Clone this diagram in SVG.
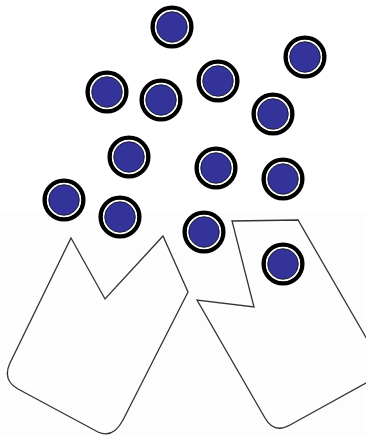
<svg xmlns="http://www.w3.org/2000/svg" width="366" height="436" viewBox="0 0 366 436">
<defs>
<style>
.shape{fill:#fefefe;stroke:#333;stroke-width:1.3;stroke-linejoin:miter}
.ring{fill:none;stroke:#000;stroke-width:4.5}
.gap{fill:none;stroke:#fff;stroke-width:1.6}
.core{fill:#333399;stroke:#111;stroke-width:0.8}
</style>
<g id="ball">
<circle class="ring" r="19.3"/>
<circle class="gap" r="16.4"/>
<circle class="core" r="15.3"/>
</g>
</defs>
<rect width="366" height="436" fill="#fff"/>
<rect y="213" width="366" height="223" fill="#fdfdfd"/>
<g id="cup-left">
<path class="shape" d="M71,238 L105,299 L163,236 L188,292 L123,420 Q113,439 98,432 L18,389 Q2,380 10,363 Z"/>
</g>
<g id="cup-right">
<path class="shape" d="M232,221 L298,220 L386,372 L290,425 Q274,434 265,418 L197,300 L254,307 Z"/>
</g>
<g id="balls">
<use id="b1" href="#ball" x="172" y="27"/>
<use id="b2" href="#ball" x="305" y="57"/>
<use id="b3" href="#ball" x="107" y="92"/>
<use id="b4" href="#ball" x="161" y="100"/>
<use id="b5" href="#ball" x="218" y="81"/>
<use id="b6" href="#ball" x="273" y="114"/>
<use id="b7" href="#ball" x="129" y="157"/>
<use id="b8" href="#ball" x="216" y="168"/>
<use id="b9" href="#ball" x="283" y="179"/>
<use id="b10" href="#ball" x="64" y="200"/>
<use id="b11" href="#ball" x="120" y="217"/>
<use id="b12" href="#ball" x="204" y="232"/>
<use id="b13" href="#ball" x="283" y="264"/>
</g>
</svg>
